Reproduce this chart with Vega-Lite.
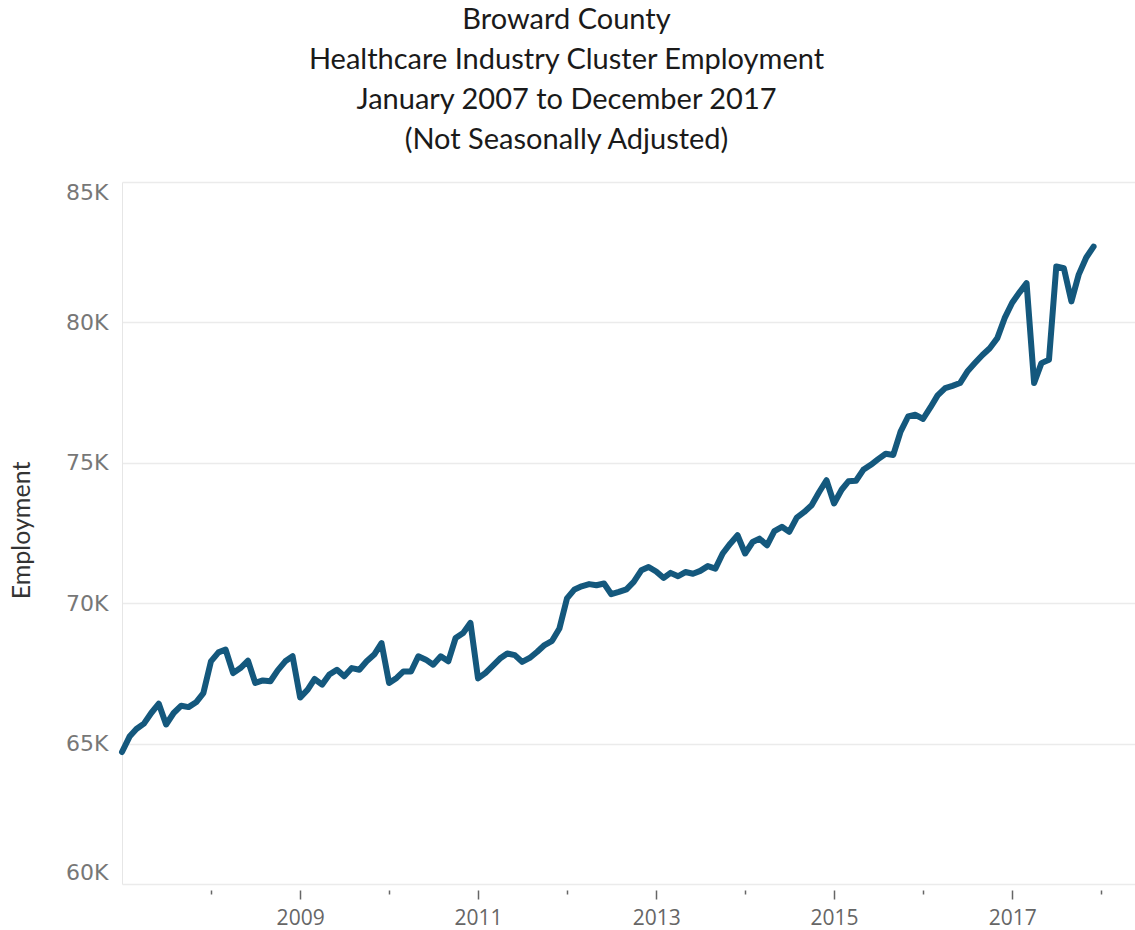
{
  "$schema": "https://vega.github.io/schema/vega-lite/v6.json",
  "width": 1013,
  "height": 702,
  "autosize": {"type": "none"},
  "padding": {"left": 122, "top": 182, "right": 0, "bottom": 46},
  "background": "white",
  "title": {
    "text": ["Broward County", "Healthcare Industry Cluster Employment", "January 2007 to December 2017", "(Not Seasonally Adjusted)"],
    "font": "Lato",
    "fontSize": 29,
    "fontWeight": "normal",
    "color": "#1a1a1a",
    "lineHeight": 40,
    "anchor": "middle",
    "dx": -62,
    "offset": 26
  },
  "config": {"view": {"stroke": null}},
  "data": {
    "values": [
      {"date": "2007-01-01", "employment": 64700}, {"date": "2007-02-01", "employment": 65250}, {"date": "2007-03-01", "employment": 65520}, {"date": "2007-04-01", "employment": 65710}, {"date": "2007-05-01", "employment": 66090}, {"date": "2007-06-01", "employment": 66420}, {"date": "2007-07-01", "employment": 65680}, {"date": "2007-08-01", "employment": 66090}, {"date": "2007-09-01", "employment": 66350}, {"date": "2007-10-01", "employment": 66300}, {"date": "2007-11-01", "employment": 66470}, {"date": "2007-12-01", "employment": 66800},
      {"date": "2008-01-01", "employment": 67930}, {"date": "2008-02-01", "employment": 68250}, {"date": "2008-03-01", "employment": 68350}, {"date": "2008-04-01", "employment": 67510}, {"date": "2008-05-01", "employment": 67690}, {"date": "2008-06-01", "employment": 67950}, {"date": "2008-07-01", "employment": 67160}, {"date": "2008-08-01", "employment": 67250}, {"date": "2008-09-01", "employment": 67220}, {"date": "2008-10-01", "employment": 67610}, {"date": "2008-11-01", "employment": 67930}, {"date": "2008-12-01", "employment": 68110},
      {"date": "2009-01-01", "employment": 66640}, {"date": "2009-02-01", "employment": 66920}, {"date": "2009-03-01", "employment": 67300}, {"date": "2009-04-01", "employment": 67100}, {"date": "2009-05-01", "employment": 67460}, {"date": "2009-06-01", "employment": 67630}, {"date": "2009-07-01", "employment": 67400}, {"date": "2009-08-01", "employment": 67690}, {"date": "2009-09-01", "employment": 67630}, {"date": "2009-10-01", "employment": 67930}, {"date": "2009-11-01", "employment": 68170}, {"date": "2009-12-01", "employment": 68580},
      {"date": "2010-01-01", "employment": 67160}, {"date": "2010-02-01", "employment": 67340}, {"date": "2010-03-01", "employment": 67570}, {"date": "2010-04-01", "employment": 67570}, {"date": "2010-05-01", "employment": 68110}, {"date": "2010-06-01", "employment": 67990}, {"date": "2010-07-01", "employment": 67810}, {"date": "2010-08-01", "employment": 68110}, {"date": "2010-09-01", "employment": 67930}, {"date": "2010-10-01", "employment": 68760}, {"date": "2010-11-01", "employment": 68940}, {"date": "2010-12-01", "employment": 69300},
      {"date": "2011-01-01", "employment": 67320}, {"date": "2011-02-01", "employment": 67520}, {"date": "2011-03-01", "employment": 67760}, {"date": "2011-04-01", "employment": 68030}, {"date": "2011-05-01", "employment": 68210}, {"date": "2011-06-01", "employment": 68150}, {"date": "2011-07-01", "employment": 67910}, {"date": "2011-08-01", "employment": 68050}, {"date": "2011-09-01", "employment": 68270}, {"date": "2011-10-01", "employment": 68510}, {"date": "2011-11-01", "employment": 68660}, {"date": "2011-12-01", "employment": 69100},
      {"date": "2012-01-01", "employment": 70170}, {"date": "2012-02-01", "employment": 70490}, {"date": "2012-03-01", "employment": 70600}, {"date": "2012-04-01", "employment": 70680}, {"date": "2012-05-01", "employment": 70640}, {"date": "2012-06-01", "employment": 70700}, {"date": "2012-07-01", "employment": 70320}, {"date": "2012-08-01", "employment": 70400}, {"date": "2012-09-01", "employment": 70490}, {"date": "2012-10-01", "employment": 70760}, {"date": "2012-11-01", "employment": 71170}, {"date": "2012-12-01", "employment": 71290},
      {"date": "2013-01-01", "employment": 71130}, {"date": "2013-02-01", "employment": 70900}, {"date": "2013-03-01", "employment": 71080}, {"date": "2013-04-01", "employment": 70960}, {"date": "2013-05-01", "employment": 71110}, {"date": "2013-06-01", "employment": 71050}, {"date": "2013-07-01", "employment": 71150}, {"date": "2013-08-01", "employment": 71320}, {"date": "2013-09-01", "employment": 71230}, {"date": "2013-10-01", "employment": 71770}, {"date": "2013-11-01", "employment": 72120}, {"date": "2013-12-01", "employment": 72420},
      {"date": "2014-01-01", "employment": 71770}, {"date": "2014-02-01", "employment": 72180}, {"date": "2014-03-01", "employment": 72300}, {"date": "2014-04-01", "employment": 72060}, {"date": "2014-05-01", "employment": 72570}, {"date": "2014-06-01", "employment": 72720}, {"date": "2014-07-01", "employment": 72540}, {"date": "2014-08-01", "employment": 73050}, {"date": "2014-09-01", "employment": 73250}, {"date": "2014-10-01", "employment": 73490}, {"date": "2014-11-01", "employment": 73960}, {"date": "2014-12-01", "employment": 74380},
      {"date": "2015-01-01", "employment": 73550}, {"date": "2015-02-01", "employment": 74040}, {"date": "2015-03-01", "employment": 74340}, {"date": "2015-04-01", "employment": 74360}, {"date": "2015-05-01", "employment": 74750}, {"date": "2015-06-01", "employment": 74930}, {"date": "2015-07-01", "employment": 75130}, {"date": "2015-08-01", "employment": 75320}, {"date": "2015-09-01", "employment": 75280}, {"date": "2015-10-01", "employment": 76110}, {"date": "2015-11-01", "employment": 76650}, {"date": "2015-12-01", "employment": 76710},
      {"date": "2016-01-01", "employment": 76560}, {"date": "2016-02-01", "employment": 76980}, {"date": "2016-03-01", "employment": 77400}, {"date": "2016-04-01", "employment": 77660}, {"date": "2016-05-01", "employment": 77740}, {"date": "2016-06-01", "employment": 77840}, {"date": "2016-07-01", "employment": 78250}, {"date": "2016-08-01", "employment": 78550}, {"date": "2016-09-01", "employment": 78840}, {"date": "2016-10-01", "employment": 79080}, {"date": "2016-11-01", "employment": 79440}, {"date": "2016-12-01", "employment": 80150},
      {"date": "2017-01-01", "employment": 80700}, {"date": "2017-02-01", "employment": 81080}, {"date": "2017-03-01", "employment": 81400}, {"date": "2017-04-01", "employment": 77840}, {"date": "2017-05-01", "employment": 78550}, {"date": "2017-06-01", "employment": 78670}, {"date": "2017-07-01", "employment": 81990}, {"date": "2017-08-01", "employment": 81930}, {"date": "2017-09-01", "employment": 80750}, {"date": "2017-10-01", "employment": 81700}, {"date": "2017-11-01", "employment": 82310}, {"date": "2017-12-01", "employment": 82700}
    ]
  },
  "mark": {"type": "line", "color": "#14587d", "strokeWidth": 6, "strokeJoin": "round", "strokeCap": "round"},
  "encoding": {
    "x": {
      "field": "date",
      "type": "temporal",
      "scale": {
        "type": "utc",
        "domain": [{"year": 2007, "month": 1, "date": 1, "utc": true}, {"year": 2018, "month": 5, "date": 20, "utc": true}]
      },
      "axis": {
        "title": null,
        "domain": false,
        "grid": false,
        "values": [
          {"year": 2008, "month": 1, "date": 1, "utc": true}, {"year": 2009, "month": 1, "date": 1, "utc": true}, {"year": 2010, "month": 1, "date": 1, "utc": true}, {"year": 2011, "month": 1, "date": 1, "utc": true}, {"year": 2012, "month": 1, "date": 1, "utc": true}, {"year": 2013, "month": 1, "date": 1, "utc": true}, {"year": 2014, "month": 1, "date": 1, "utc": true}, {"year": 2015, "month": 1, "date": 1, "utc": true}, {"year": 2016, "month": 1, "date": 1, "utc": true}, {"year": 2017, "month": 1, "date": 1, "utc": true}, {"year": 2018, "month": 1, "date": 1, "utc": true}
        ],
        "labelExpr": "utcyear(datum.value) % 2 == 1 ? utcFormat(datum.value, '%Y') : ''",
        "tickSize": {"condition": {"test": "utcyear(datum.value) % 2 == 1", "value": 9}, "value": 4},
        "tickColor": "#666666",
        "tickWidth": 1.5,
        "offset": 6,
        "labelFont": "Open Sans",
        "labelFontSize": 21,
        "labelColor": "#666666",
        "labelPadding": 8,
        "labelFlush": false,
        "labelOverlap": false
      }
    },
    "y": {
      "field": "employment",
      "type": "quantitative",
      "scale": {"domain": [60000, 85000], "nice": false, "zero": false},
      "axis": {
        "title": "Employment",
        "titleFont": "Lato",
        "titleFontSize": 25,
        "titleFontWeight": "normal",
        "titleColor": "#333333",
        "titleX": -113,
        "titleY": 348,
        "titleBaseline": "top",
        "titleAlign": "center",
        "values": [60000, 65000, 70000, 75000, 80000, 85000],
        "labelExpr": "(datum.value / 1000) + 'K'",
        "labelFont": "DejaVu Sans",
        "labelFontSize": 22,
        "labelColor": "#777777",
        "labelPadding": 14,
        "labelFlush": true,
        "ticks": false,
        "domain": true,
        "domainColor": "#e6e6e6",
        "gridColor": "#ebebeb",
        "gridWidth": 1.5
      }
    }
  }
}
